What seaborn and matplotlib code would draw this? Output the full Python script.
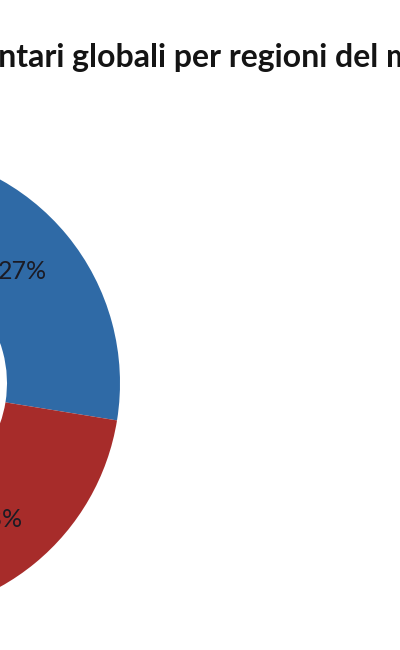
import matplotlib
matplotlib.use('Agg')
import matplotlib.pyplot as plt
import seaborn as sns

regions = ['Regione A', 'Regione B', 'Altre regioni']
shares = [27, 23, 50]
colors = ['#2f6aa6', '#a72c2a', '#8fae4f']
title = 'Sprechi alimentari globali per regioni del mondo'

sns.set_theme(style='white')
plt.rcParams['font.family'] = ['Lato', 'DejaVu Sans']

fig = plt.figure(figsize=(4, 6.5), dpi=100)
fig.patch.set_facecolor('white')

# the chart is a crop: the donut centre lies left of the figure edge
ax = fig.add_axes([-0.865, 0.052, 1.165, 0.717])
wedges, texts, autotexts = ax.pie(
    shares, colors=colors, startangle=88, counterclock=False,
    radius=1, autopct='%.0f%%', pctdistance=0.755,
    wedgeprops={'width': 0.485, 'linewidth': 0},
    textprops={'fontsize': 18, 'color': '#1b1b24'})
ax.set_xlim(-1, 1)
ax.set_ylim(-1, 1)
ax.set_aspect('equal')
ax.axis('off')

# title is cut off on both sides; put the text so "ntari" starts at the left edge
tkw = dict(fontsize=23, fontweight='bold', color='#141414')
cut = title.index('ntari')
probe = fig.text(0, 0, title[:cut], **tkw)
fig.canvas.draw()
w = probe.get_window_extent().width
probe.remove()
fig.text(-(w + 2) / 400, 0.897, title, ha='left', va='baseline', **tkw)

fig.savefig('out.png', dpi=100, facecolor='white')
